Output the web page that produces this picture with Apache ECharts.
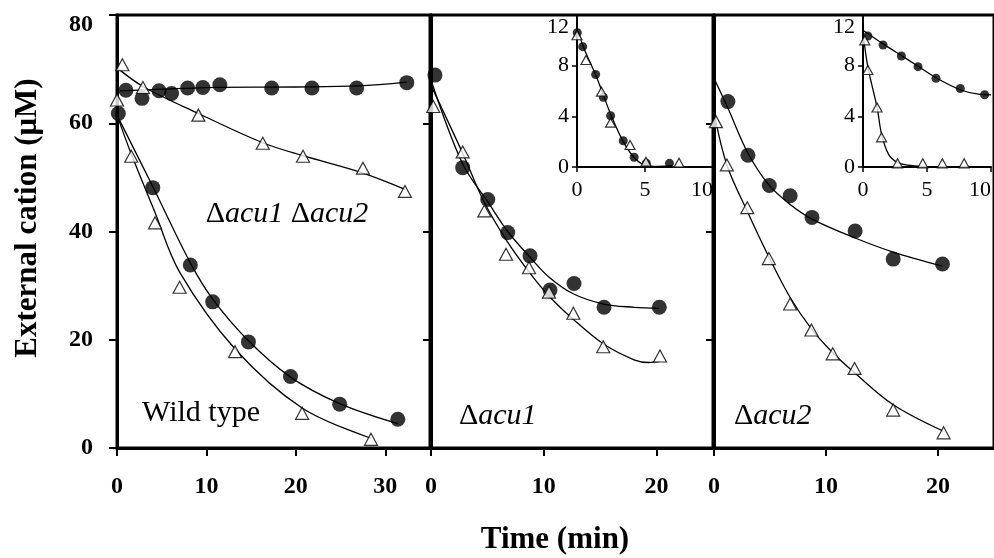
<!DOCTYPE html>
<html>
<head>
<meta charset="utf-8">
<title>External cation uptake</title>
<script src="https://cdn.jsdelivr.net/npm/echarts@6.0.0/dist/echarts.min.js"></script>
<style>
  html, body { margin: 0; padding: 0; background: #fff; }
  #chart { width: 994px; height: 558px; }
</style>
</head>
<body>
<div id="chart"></div>
<script>
// ---- data (time in min, cation in uM) ----
// wild type panel
var wtCircT = [0.15, 4.0, 8.2, 10.7, 14.7, 19.4, 24.9, 31.4];
var wtCircV = [61.8, 48.1, 33.8, 27.0, 19.6, 13.2, 8.1, 5.3];
var wtTriT = [0, 1.6, 4.25, 7.0, 13.2, 20.7, 28.4];
var wtTriV = [64.3, 53.9, 41.6, 29.7, 17.8, 6.4, 1.6];
// double mutant (same panel)
var dmCircT = [1.0, 2.8, 4.7, 6.1, 7.9, 9.6, 11.5, 17.3, 21.8, 26.8, 32.4];
var dmCircV = [66.1, 64.6, 66.0, 65.5, 66.5, 66.6, 67.1, 66.5, 66.5, 66.5, 67.5];
var dmTriT = [0.6, 2.9, 9.1, 16.3, 20.8, 27.5, 32.2];
var dmTriV = [70.8, 66.6, 61.5, 56.3, 53.9, 51.7, 47.4];
// acu1 panel
var a1CircT = [0.35, 2.81, 5.03, 6.8, 8.78, 10.55, 12.68, 15.34, 20.24];
var a1CircV = [68.9, 51.8, 45.9, 39.8, 35.5, 29.2, 30.4, 26.0, 26.0];
var a1TriT = [0.2, 2.81, 4.73, 6.65, 8.69, 10.46, 12.62, 15.27, 20.3];
var a1TriV = [63.1, 54.7, 43.8, 35.8, 33.3, 28.8, 24.9, 18.7, 17.0];
// acu2 panel
var a2CircT = [1.24, 3.03, 4.94, 6.8, 8.75, 12.6, 16.0, 20.4];
var a2CircV = [64.0, 54.1, 48.5, 46.6, 42.6, 40.1, 34.9, 34.0];
var a2TriT = [0.17, 1.15, 2.97, 4.9, 6.8, 8.7, 10.6, 12.55, 16.0, 20.5];
var a2TriV = [60.3, 52.3, 44.4, 35.0, 26.6, 21.8, 17.4, 14.7, 7.0, 2.8];
// insets
var in1CircT = [0.02, 0.42, 1.37, 1.94, 2.47, 3.4, 4.2, 5.1, 6.8];
var in1CircV = [10.6, 9.5, 7.3, 5.5, 4.05, 2.07, 0.77, 0.29, 0.29];
var in1TriT = [0, 0.66, 1.8, 2.47, 3.9, 5.07, 7.5];
var in1TriV = [10.4, 8.45, 5.95, 3.5, 1.74, 0.42, 0.34];
var in2CircT = [0.38, 1.57, 3.0, 4.3, 5.7, 7.6, 9.5];
var in2CircV = [10.34, 9.63, 8.76, 7.92, 7.0, 6.2, 5.7];
var in2TriT = [0.14, 0.38, 1.1, 1.45, 2.7, 4.67, 6.2, 7.9];
var in2TriV = [10.0, 7.66, 4.7, 2.34, 0.29, 0.29, 0.29, 0.29];

// fitted curves as [t, value]
var wtCircFit = [[0, 61.5], [4, 48.3], [8.2, 34.2], [10.7, 27.5], [14.7, 19.8], [19.4, 13.1], [24.9, 8.2], [31.4, 4.5]];
var wtTriFit = [[0, 61.5], [1.6, 54.3], [4.25, 43.5], [7, 32.5], [13.2, 18.3], [20.7, 7.4], [28.4, 1.8]];
var dmCircFit = [[0.3, 66.0], [5, 66.3], [10, 66.6], [20, 66.7], [27, 66.9], [32.4, 67.6]];
var dmTriFit = [[0.2, 70.0], [2.9, 66.8], [9.1, 61.8], [16.3, 56.4], [20.8, 54.0], [27.5, 50.8], [32.2, 47.8]];
var a1CircFit = [[0, 68], [2.8, 52.5], [5, 45.6], [6.8, 40], [8.8, 35.2], [10.5, 31.5], [12.6, 28.5], [15.3, 26.6], [18, 26.0], [20.2, 25.8]];
var a1TriFit = [[0, 67], [2.8, 54.5], [4.7, 45.5], [6.65, 38.5], [8.7, 32.5], [10.5, 28], [12.6, 23.8], [15.3, 19.2], [18, 16.3], [19.3, 15.8], [20.3, 16.0]];
var a2CircFit = [[0, 68.3], [1.24, 62.8], [3, 54.6], [4.9, 48.6], [6.8, 45.0], [8.75, 42.3], [12.6, 38.8], [16, 36.2], [20.4, 33.6]];
var a2TriFit = [[0, 62], [1.15, 52.3], [3, 43.6], [4.9, 35.3], [6.8, 27.8], [8.7, 22], [10.6, 17.6], [12.55, 13.9], [16, 8.0], [20.5, 3.1]];
var in1Fit = [[0, 11.0], [0.5, 9.4], [1.4, 7.2], [2, 5.5], [2.5, 4.1], [3.4, 2.0], [4.2, 0.75], [5, 0.15], [6, 0.05], [7, 0.1]];
var in2CircFit = [[0, 10.8], [1.6, 9.7], [3, 8.8], [4.3, 7.95], [5.7, 7.05], [7.6, 6.1], [9, 5.75], [10, 5.7]];
var in2TriFit = [[0, 10.6], [0.38, 7.9], [1.1, 4.7], [1.45, 2.6], [2, 1.0], [2.7, 0.35], [3.5, 0.15], [4.7, 0.05]];

// axis ranges / ticks
var mainXMax = [35, 25, 25];
var mainYTicks = [0, 20, 40, 60, 80];
var insetYTicks = [0, 4, 8, 12];
var insetXTicks = [0, 5, 10];

var serif = "'Liberation Serif', 'DejaVu Serif', serif";

function pairs (t, v) {
  var out = [];
  for (var i = 0; i < t.length; i++) out.push([t[i], v[i]]);
  return out;
}

function mainX (i) {
  return {
    type: 'value', gridIndex: i, min: 0, max: mainXMax[i], interval: 10,
    axisLine: { onZero: false, lineStyle: { color: '#000', width: 3 } },
    axisTick: { length: 8, lineStyle: { color: '#000', width: 2 } },
    axisLabel: { color: '#000', fontFamily: serif, fontWeight: 'bold', fontSize: 24, margin: 27, showMaxLabel: false },
    splitLine: { show: false }
  };
}

function mainY (i) {
  return {
    type: 'value', gridIndex: i, min: 0, max: mainYTicks[mainYTicks.length - 1], interval: 20,
    axisLine: { onZero: false, lineStyle: { color: '#000', width: 3 } },
    axisTick: { length: 8, lineStyle: { color: '#000', width: 2 } },
    axisLabel: {
      show: i === 0, color: '#000', fontFamily: serif, fontWeight: 'bold', fontSize: 24, margin: 24,
      formatter: function (v) { return v === 80 ? '{t|80}' : String(v); },
      rich: { t: { padding: [20, 0, 0, 0], fontFamily: serif, fontWeight: 'bold', fontSize: 24, color: '#000' } }
    },
    splitLine: { show: false }
  };
}

function insetX (i) {
  return {
    type: 'value', gridIndex: i, min: 0, max: insetXTicks[insetXTicks.length - 1], interval: 5,
    axisLine: { onZero: false, lineStyle: { color: '#000', width: 2 } },
    axisTick: { length: 5, lineStyle: { color: '#000', width: 1.5 } },
    axisLabel: { color: '#000', fontFamily: serif, fontSize: 22, margin: 12, alignMaxLabel: 'right' },
    splitLine: { show: false }
  };
}

function insetY (i) {
  return {
    type: 'value', gridIndex: i, min: 0, max: insetYTicks[insetYTicks.length - 1], interval: 4,
    axisLine: { onZero: false, lineStyle: { color: '#000', width: 2 } },
    axisTick: { length: 5, lineStyle: { color: '#000', width: 1.5 } },
    axisLabel: {
      color: '#000', fontFamily: serif, fontSize: 22, margin: 8,
      formatter: function (v) { return v === 12 ? '{t|12}' : String(v); },
      rich: { t: { padding: [24, 0, 0, 0], fontFamily: serif, fontSize: 22, color: '#000' } }
    },
    splitLine: { show: false }
  };
}

function circles (idx, t, v, size) {
  return {
    type: 'scatter', xAxisIndex: idx, yAxisIndex: idx, data: pairs(t, v), z: 4,
    symbol: 'circle', symbolSize: size, itemStyle: { color: '#000' }, silent: true
  };
}

function triangles (idx, t, v, size) {
  return {
    type: 'scatter', xAxisIndex: idx, yAxisIndex: idx, data: pairs(t, v), z: 5,
    symbol: 'triangle', symbolSize: size,
    itemStyle: { color: '#fff', borderColor: '#000', borderWidth: 1.2 }, silent: true
  };
}

function curve (idx, pts) {
  return {
    type: 'line', xAxisIndex: idx, yAxisIndex: idx, data: pts, z: 3,
    showSymbol: false, smooth: 0.35, silent: true,
    lineStyle: { color: '#000', width: 1.3 }
  };
}

var myChart = echarts.init(document.getElementById('chart'));
var border = { show: true, borderColor: '#000', borderWidth: 3, backgroundColor: 'transparent' };
var italicRich = { n: { fontFamily: serif, fontSize: 30 }, i: { fontFamily: serif, fontSize: 30, fontStyle: 'italic' } };

var option = {
  animation: false,
  backgroundColor: '#fff',
  grid: [
    Object.assign({ left: 117, top: 15, width: 313, height: 433 }, border),
    Object.assign({ left: 431, top: 15, width: 282, height: 433 }, border),
    Object.assign({ left: 714, top: 15, width: 289, height: 433 }, border),
    { left: 577, top: 15, width: 136, height: 152 },
    { left: 863, top: 15, width: 140, height: 152 }
  ],
  xAxis: [mainX(0), mainX(1), mainX(2), insetX(3), insetX(4)],
  yAxis: [mainY(0), mainY(1), mainY(2), insetY(3), insetY(4)],
  series: [
    curve(0, wtCircFit), curve(0, wtTriFit), curve(0, dmCircFit), curve(0, dmTriFit),
    circles(0, wtCircT, wtCircV, 15), triangles(0, wtTriT, wtTriV, [13, 12]),
    circles(0, dmCircT, dmCircV, 15), triangles(0, dmTriT, dmTriV, [13, 12]),

    curve(1, a1CircFit), curve(1, a1TriFit),
    circles(1, a1CircT, a1CircV, 15), triangles(1, a1TriT, a1TriV, [13, 12]),

    curve(2, a2CircFit), curve(2, a2TriFit),
    circles(2, a2CircT, a2CircV, 15), triangles(2, a2TriT, a2TriV, [13, 12]),

    curve(3, in1Fit),
    circles(3, in1CircT, in1CircV, 9), triangles(3, in1TriT, in1TriV, [10, 9]),

    curve(4, in2CircFit), curve(4, in2TriFit),
    circles(4, in2CircT, in2CircV, 9), triangles(4, in2TriT, in2TriV, [10, 9])
  ],
  graphic: [
    {
      type: 'text', x: 28, y: 218, rotation: Math.PI / 2,
      style: { text: 'External cation (\u03bcM)', fontFamily: serif, fontWeight: 'bold', fontSize: 31, fill: '#000', align: 'center', verticalAlign: 'middle' }
    },
    {
      type: 'text', x: 555, y: 540,
      style: { text: 'Time (min)', fontFamily: serif, fontWeight: 'bold', fontSize: 31, fill: '#000', align: 'center', verticalAlign: 'middle' }
    },
    {
      type: 'text', x: 201, y: 413,
      style: { text: 'Wild type', fontFamily: serif, fontSize: 30, fill: '#000', align: 'center', verticalAlign: 'middle' }
    },
    {
      type: 'text', x: 287, y: 214,
      style: {
        text: '{n|\u0394}{i|acu1} {n|\u0394}{i|acu2}', fontFamily: serif, fontSize: 30, fill: '#000',
        align: 'center', verticalAlign: 'middle', rich: italicRich
      }
    },
    {
      type: 'text', x: 459, y: 416,
      style: {
        text: '{n|\u0394}{i|acu1}', fontFamily: serif, fontSize: 30, fill: '#000',
        align: 'left', verticalAlign: 'middle', rich: italicRich
      }
    },
    {
      type: 'text', x: 734, y: 416,
      style: {
        text: '{n|\u0394}{i|acu2}', fontFamily: serif, fontSize: 30, fill: '#000',
        align: 'left', verticalAlign: 'middle', rich: italicRich
      }
    }
  ]
};
myChart.setOption(option);
</script>
</body>
</html>
